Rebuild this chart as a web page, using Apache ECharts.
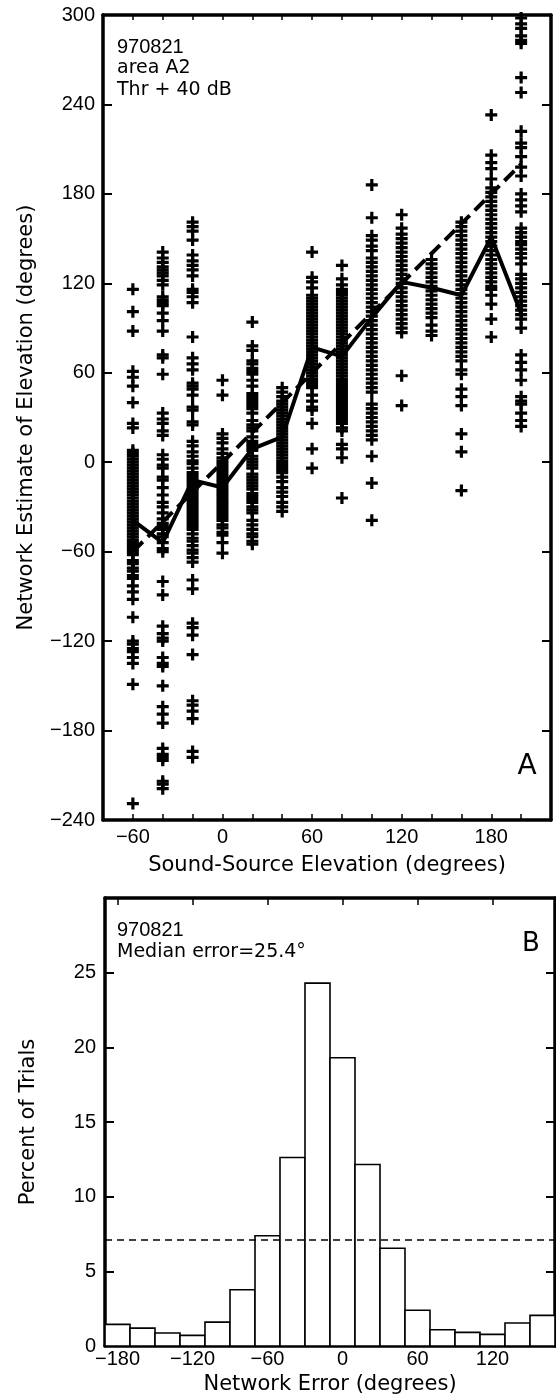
<!DOCTYPE html>
<html>
<head>
<meta charset="utf-8">
<script src="https://cdn.jsdelivr.net/npm/echarts@6/dist/echarts.min.js"></script>
<style>
html,body{margin:0;padding:0;background:#fff;}
#chart{width:556px;height:1397px;}
</style>
</head>
<body>
<div id="chart"></div>
<script>
// ---------- Panel A data ----------
const sourceElevations = [-60, -40, -20, 0, 20, 40, 60, 80, 100, 120, 140, 160, 180, 200];
const estM60 = [116, 101, 88, 61, 57, 51, 40, 26, 23, 8, 6, 4, 2, 0, -2, -4, -6, -8, -10, -12, -14, -16, -18, -20, -22, -24, -26, -28, -30, -32, -34, -36, -38, -40, -42, -44, -46, -48, -50, -52, -54, -56, -58, -60, -62, -66, -68, -71, -73, -76, -78, -83, -87, -92, -104, -120, -122, -125, -127, -131, -135, -149, -229];
const estM40 = [141, 137, 134, 131, 129, 127, 125, 122, 119, 111, 109, 107, 105, 100, 95, 88, 72, 70, 59, 33, 29, 26, 21, 18, 5, 2, -2, -4, -10, -12, -17, -22, -27, -30, -34, -38, -41, -43, -45, -48, -50, -54, -58, -60, -80, -89, -110, -115, -118, -120, -131, -135, -137, -150, -164, -169, -175, -192, -196, -198, -200, -214, -216, -219];
const estM20 = [161, 158, 155, 149, 139, 135, 132, 129, 125, 116, 114, 111, 107, 84, 70, 66, 62, 53, 51, 49, 45, 37, 35, 27, 25, 14, 11, 7, 4, 1, -1, -4, -7, -9, -11, -13, -15, -17, -19, -21, -23, -25, -27, -29, -31, -33, -35, -37, -39, -41, -43, -45, -48, -51, -53, -56, -59, -61, -64, -67, -79, -85, -108, -111, -116, -129, -160, -163, -167, -172, -194, -198];
const est0 = [55, 45, 19, 16, 13, 9, 6, 3, 1, -1, -3, -5, -7, -9, -11, -13, -15, -17, -19, -21, -23, -25, -27, -29, -31, -33, -35, -37, -39, -42, -44, -47, -49, -54, -61];
const est20 = [94, 78, 75, 68, 66, 63, 61, 59, 55, 51, 46, 44, 42, 40, 38, 36, 33, 28, 25, 23, 21, 17, 14, 12, 10, 8, 4, 2, 0, -2, -4, -8, -10, -12, -14, -16, -18, -21, -23, -25, -27, -30, -32, -34, -39, -42, -45, -48, -50, -53, -55];
const est40 = [50, 47, 44, 41, 39, 37, 35, 33, 31, 29, 27, 25, 23, 21, 19, 17, 15, 13, 11, 9, 7, 5, 3, 1, -1, -3, -5, -7, -10, -13, -17, -20, -23, -27, -30, -33];
const est60 = [141, 124, 121, 117, 112, 110, 108, 106, 104, 102, 100, 98, 96, 94, 92, 90, 88, 86, 84, 82, 80, 78, 76, 74, 72, 70, 68, 66, 64, 62, 60, 58, 56, 54, 52, 50, 45, 41, 37, 35, 26, 9, -4];
const est80 = [132, 123, 119, 116, 114, 112, 110, 108, 106, 104, 102, 100, 98, 96, 94, 92, 90, 88, 86, 84, 82, 80, 78, 76, 74, 72, 70, 68, 66, 64, 62, 60, 58, 56, 54, 52, 50, 48, 46, 44, 42, 40, 38, 36, 34, 32, 30, 28, 26, 23, 21, 12, 9, 3, -24];
const est100 = [186, 164, 152, 149, 145, 142, 137, 134, 131, 128, 125, 122, 119, 116, 113, 110, 107, 104, 101, 98, 95, 92, 89, 86, 83, 80, 77, 74, 71, 68, 65, 62, 59, 56, 53, 50, 47, 39, 36, 33, 30, 27, 24, 21, 18, 15, 4, -14, -39];
const est120 = [166, 157, 153, 150, 147, 144, 141, 138, 135, 132, 129, 126, 123, 120, 117, 114, 111, 108, 105, 102, 99, 96, 93, 90, 87, 58, 38];
const est140 = [136, 133, 130, 127, 124, 121, 118, 115, 112, 109, 106, 103, 100, 97, 92, 88, 85];
const est160 = [161, 158, 155, 152, 149, 146, 143, 140, 137, 134, 131, 128, 125, 122, 119, 116, 113, 110, 107, 104, 101, 98, 95, 92, 89, 86, 83, 80, 77, 74, 71, 68, 62, 59, 49, 44, 38, 19, 7, -19];
const est180 = [233, 206, 201, 197, 190, 184, 181, 178, 175, 172, 169, 166, 163, 160, 157, 154, 151, 148, 145, 142, 139, 136, 133, 130, 127, 124, 121, 118, 116, 112, 106, 96, 84];
const est200 = [298, 294, 291, 286, 283, 281, 258, 248, 222, 214, 211, 205, 198, 192, 180, 176, 172, 168, 157, 154, 151, 148, 146, 143, 140, 137, 133, 126, 123, 120, 117, 114, 111, 108, 105, 102, 99, 96, 90, 72, 67, 62, 55, 44, 41, 39, 33, 28, 24];
const meanEstimate = [-39, -54, -12, -17, 9, 17, 77, 71, 97, 121, 117, 112, 151, 100];
const xLabelsA = [-60, 0, 60, 120, 180];

// ---------- Panel B data ----------
const errorBinCenters = [-180, -160, -140, -120, -100, -80, -60, -40, -20, 0, 20, 40, 60, 80, 100, 120, 140, 160];
const percentTrials = [1.45, 1.2, 0.87, 0.71, 1.6, 3.77, 7.38, 12.62, 24.3, 19.3, 12.15, 6.55, 2.39, 1.09, 0.91, 0.78, 1.54, 2.05];
const BIN_WIDTH = 20;
const chancePercent = 7.14;
const xLabelsB = [-180, -120, -60, 0, 60, 120];
const xTicksB = [-180, -160, -140, -120, -100, -80, -60, -40, -20, 0, 20, 40, 60, 80, 100, 120, 140, 160];

// ---------- build ----------
const estimatesByColumn = [estM60, estM40, estM20, est0, est20, est40, est60, est80, est100, est120, est140, est160, est180, est200];
const scatterData = [];
sourceElevations.forEach((s, i) => estimatesByColumn[i].forEach(v => scatterData.push([s, v])));
const meanLine = sourceElevations.map((s, i) => [s, meanEstimate[i]]);
const targetLine = sourceElevations.map(s => [s, s]);
const histData = errorBinCenters.map((c, i) => [c, percentTrials[i]]);

const FONT = "'DejaVu Sans', sans-serif";
const NUMFONT = "'Liberation Sans', Arial, sans-serif";
const minus = v => String(v).replace('-', '\u2212');
const lbl = { color: '#000', fontFamily: NUMFONT, fontSize: 20 };
const nameStyle = { color: '#000', fontFamily: FONT, fontSize: 21 };
const frameLine = { show: true, onZero: false, lineStyle: { color: '#000', width: 3.5 } };
const PLUS = 'path://M4.4,0H7.6V4.4H12V7.6H7.6V12H4.4V7.6H0V4.4H4.4Z';

const chart = echarts.init(document.getElementById('chart'), null, { renderer: 'canvas' });
chart.setOption({
  animation: false,
  backgroundColor: '#fff',
  grid: [
    { left: 103, top: 15, width: 448, height: 805, outerBoundsMode: 'none', containLabel: false },
    { left: 105, top: 898, width: 450, height: 448, outerBoundsMode: 'none', containLabel: false }
  ],
  xAxis: [
    { type: 'value', gridIndex: 0, position: 'bottom', min: -80, max: 220, interval: 20,
      axisLine: frameLine, splitLine: { show: false },
      axisTick: { show: true, inside: true, length: 6, lineStyle: { color: '#000', width: 1.5 } },
      axisLabel: { ...lbl, margin: 7, showMinLabel: true, showMaxLabel: true,
        formatter: v => (xLabelsA.indexOf(v) >= 0 ? minus(v) : '') },
      name: 'Sound-Source Elevation (degrees)', nameLocation: 'middle', nameGap: 35, nameTextStyle: nameStyle },
    { type: 'value', gridIndex: 0, position: 'top', min: -80, max: 220, interval: 20,
      axisLine: frameLine, splitLine: { show: false },
      axisTick: { show: true, inside: true, length: 5, lineStyle: { color: '#000', width: 1.5 } },
      axisLabel: { show: false } },
    { type: 'value', gridIndex: 1, position: 'bottom', min: -190, max: 170,
      axisLine: frameLine, splitLine: { show: false },
      axisTick: { show: true, inside: true, length: 5, customValues: xTicksB, lineStyle: { color: '#000', width: 1.5 } },
      axisLabel: { ...lbl, margin: 3, customValues: xLabelsB, formatter: v => minus(v) },
      name: 'Network Error (degrees)', nameLocation: 'middle', nameGap: 28, nameTextStyle: nameStyle },
    { type: 'value', gridIndex: 1, position: 'top', min: -190, max: 170,
      axisLine: frameLine, splitLine: { show: false },
      axisTick: { show: true, inside: true, length: 7, customValues: xLabelsB, lineStyle: { color: '#000', width: 1.5 } },
      axisLabel: { show: false } }
  ],
  yAxis: [
    { type: 'value', gridIndex: 0, position: 'left', min: -240, max: 300, interval: 60,
      axisLine: frameLine, splitLine: { show: false },
      axisTick: { show: true, inside: true, length: 9, lineStyle: { color: '#000', width: 2 } },
      axisLabel: { ...lbl, margin: 8, formatter: v => minus(v) },
      name: 'Network Estimate of Elevation (degrees)', nameLocation: 'middle', nameGap: 66, nameTextStyle: nameStyle },
    { type: 'value', gridIndex: 0, position: 'right', min: -240, max: 300, interval: 60,
      axisLine: frameLine, splitLine: { show: false },
      axisTick: { show: true, inside: true, length: 9, lineStyle: { color: '#000', width: 2 } },
      axisLabel: { show: false } },
    { type: 'value', gridIndex: 1, position: 'left', min: 0, max: 30, interval: 5,
      axisLine: frameLine, splitLine: { show: false },
      axisTick: { show: true, inside: true, length: 9, lineStyle: { color: '#000', width: 2 } },
      axisLabel: { ...lbl, margin: 9, formatter: v => (v === 30 ? '' : String(v)) },
      name: 'Percent of Trials', nameLocation: 'middle', nameGap: 66, nameTextStyle: nameStyle },
    { type: 'value', gridIndex: 1, position: 'right', min: 0, max: 30, interval: 5,
      axisLine: frameLine, splitLine: { show: false },
      axisTick: { show: true, inside: true, length: 9, lineStyle: { color: '#000', width: 2 } },
      axisLabel: { show: false } }
  ],
  series: [
    { type: 'scatter', xAxisIndex: 0, yAxisIndex: 0, data: scatterData, symbol: PLUS, symbolSize: 12,
      itemStyle: { color: '#000', opacity: 1 }, silent: true, z: 2 },
    { type: 'line', xAxisIndex: 0, yAxisIndex: 0, data: targetLine, symbol: 'none',
      lineStyle: { color: '#000', width: 4, type: [14, 7] }, silent: true, z: 3 },
    { type: 'line', xAxisIndex: 0, yAxisIndex: 0, data: meanLine, symbol: 'none',
      lineStyle: { color: '#000', width: 4 }, silent: true, z: 4 },
    { type: 'custom', xAxisIndex: 2, yAxisIndex: 2, data: histData, silent: true, z: 2,
      renderItem: (params, api) => {
        const c = api.value(0), h = api.value(1);
        const p0 = api.coord([c - BIN_WIDTH / 2, 0]);
        const p1 = api.coord([c + BIN_WIDTH / 2, h]);
        return { type: 'rect', shape: { x: p0[0], y: p1[1], width: p1[0] - p0[0], height: p0[1] - p1[1] },
          style: { fill: '#fff', stroke: '#000', lineWidth: 1.6 } };
      },
      markLine: { silent: true, symbol: 'none', label: { show: false },
        lineStyle: { color: '#000', width: 1.5, type: [7, 5] },
        data: [{ yAxis: chancePercent }] } }
  ],
  graphic: [
    { type: 'text', x: 117, y: 47, style: { text: '970821', fill: '#000', font: '20px ' + NUMFONT, verticalAlign: 'middle' } },
    { type: 'text', x: 117, y: 68, style: { text: 'area A2', fill: '#000', font: '19px ' + FONT, verticalAlign: 'middle' } },
    { type: 'text', x: 117, y: 90, style: { text: 'Thr + 40 dB', fill: '#000', font: '19px ' + FONT, verticalAlign: 'middle' } },
    { type: 'text', x: 527, y: 767, style: { text: 'A', fill: '#000', font: '28px ' + FONT, align: 'center', verticalAlign: 'middle' } },
    { type: 'text', x: 117, y: 930, style: { text: '970821', fill: '#000', font: '20px ' + NUMFONT, verticalAlign: 'middle' } },
    { type: 'text', x: 117, y: 952, style: { text: 'Median error=25.4\u00B0', fill: '#000', font: '19px ' + FONT, verticalAlign: 'middle' } },
    { type: 'text', x: 531, y: 944, style: { text: 'B', fill: '#000', font: '26px ' + FONT, align: 'center', verticalAlign: 'middle' } }
  ]
});
</script>
</body>
</html>
